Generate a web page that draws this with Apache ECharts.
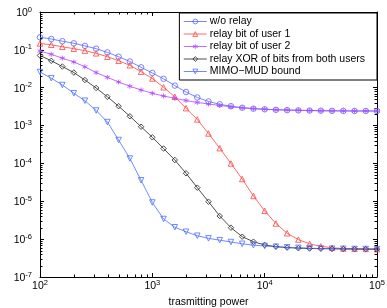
<!DOCTYPE html>
<html>
<head>
<meta charset="utf-8">
<script src="https://cdn.jsdelivr.net/npm/echarts@6/dist/echarts.min.js"></script>
<style>
  html, body { margin: 0; padding: 0; background: #fff; }
  #chart { width: 387px; height: 308px; }
</style>
</head>
<body>
<div id="chart"></div>
<script>
// transmit power samples (10 per decade)
const power = [100, 126, 158, 200, 251, 316, 398, 501, 631, 794,
  1000, 1259, 1585, 1995, 2512, 3162, 3981, 5012, 6310, 7943,
  10000, 12589, 15849, 19953, 25119, 31623, 39811, 50119, 63096, 79433, 100000]

const berNoRelay = [0.2148, 0.1936, 0.1694, 0.1489, 0.1274, 0.1074, 0.0857, 0.0659, 0.0493, 0.0346,
  0.0245, 0.0172, 0.01138, 0.00771, 0.00552, 0.00433, 0.00365, 0.00325, 0.00296, 0.00279,
  0.00269, 0.00261, 0.00256, 0.00252, 0.00249, 0.00247, 0.00245, 0.00244, 0.00243, 0.00243, 0.00243]

const berUser1 = [0.1472, 0.1361, 0.1205, 0.1074, 0.0951, 0.0811, 0.0659, 0.0517, 0.0391, 0.0265,
  0.01753, 0.01026, 0.00575, 0.00288, 0.00145, 6.18e-4, 2.53e-4, 9.96e-5, 3.88e-5, 1.38e-5,
  5.61e-6, 2.59e-6, 1.43e-6, 9.73e-7, 7.53e-7, 6.47e-7, 5.91e-7, 5.66e-7, 5.56e-7, 5.50e-7, 5.43e-7]

const berUser2 = [0.0933, 0.0764, 0.0603, 0.0478, 0.0357, 0.0252, 0.0188, 0.01416, 0.01091, 0.00871,
  0.00713, 0.00604, 0.00526, 0.00459, 0.00407, 0.00372, 0.00339, 0.00313, 0.00295, 0.00281,
  0.00271, 0.00262, 0.00258, 0.00254, 0.0025, 0.00247, 0.00245, 0.00244, 0.00243, 0.00243, 0.00243]

const berXor = [0.0710, 0.0514, 0.0363, 0.0252, 0.0160, 0.00984, 0.00575, 0.00325, 0.00176, 9.33e-4,
  4.90e-4, 2.48e-4, 1.23e-4, 5.49e-5, 2.29e-5, 9.75e-6, 4.09e-6, 2.01e-6, 1.16e-6, 8.57e-7,
  7.01e-7, 6.32e-7, 5.98e-7, 5.77e-7, 5.66e-7, 5.61e-7, 5.55e-7, 5.50e-7, 5.48e-7, 5.45e-7, 5.43e-7]

const berMimo = [0.0260, 0.0178, 0.0118, 0.00713, 0.00454, 0.0025, 0.00124, 4.16e-4, 1.35e-4, 3.59e-5,
  9.29e-6, 3.41e-6, 2.06e-6, 1.57e-6, 1.23e-6, 1.05e-6, 9.40e-7, 8.41e-7, 7.53e-7, 6.92e-7,
  6.59e-7, 6.32e-7, 6.10e-7, 5.92e-7, 5.77e-7, 5.66e-7, 5.61e-7, 5.55e-7, 5.50e-7, 5.47e-7, 5.43e-7]

const seriesNames = ['w/o relay', 'relay bit of user 1', 'relay bit of user 2',
  'relay XOR of bits from both users', 'MIMO\u2212MUD bound']
const seriesColors = ['#5566ff', '#ff4444', '#b448ff', '#222222', '#4d6dff']

// minor tick positions (2..9 of each decade)
const mantissas = [2, 3, 4, 5, 6, 7, 8, 9]
const xDecades = [100, 1000, 10000]
const yDecades = [1e-7, 1e-6, 1e-5, 1e-4, 1e-3, 1e-2, 1e-1]

const xMinor = []
xDecades.forEach(d => mantissas.forEach(m => xMinor.push([m * d, 1e-3])))
const yMinor = []
yDecades.forEach(d => mantissas.forEach(m => yMinor.push([1000, m * d])))

const FONT = 'Liberation Sans, Arial, Helvetica, sans-serif'
const asterisk = 'path://M0,-5L0,5M-4.3,-2.5L4.3,2.5M-4.3,2.5L4.3,-2.5'
const downTriangle = 'path://M-5,-4L5,-4L0,4.5Z'
const CLEAR = 'rgba(255,255,255,0)'

const powLabel = (v) => '{b|10}{s|' + Math.round(Math.log10(v)) + '}'
const powRich = {
  b: { fontSize: 10.5, fontFamily: FONT, color: '#000', lineHeight: 13, verticalAlign: 'bottom' },
  s: { fontSize: 7.5, fontFamily: FONT, color: '#000', lineHeight: 8, verticalAlign: 'top' }
}

const lineSeries = (idx, data, symbol, size) => ({
  name: seriesNames[idx],
  type: 'line',
  data: power.map((p, i) => [p, data[i]]),
  symbol: symbol,
  symbolSize: size || 5.5,
  showSymbol: true,
  lineStyle: { color: seriesColors[idx], width: 0.8 },
  itemStyle: { color: CLEAR, borderColor: seriesColors[idx], borderWidth: 0.8 },
  animation: false
})

const minorTick = (axis) => (params, api) => {
  const cs = params.coordSys
  const len = 2.5
  const st = { stroke: '#000', lineWidth: 1 }
  if (axis === 'x') {
    const x = Math.round(api.coord([api.value(0), 1e-3])[0]) + 0.5
    return { type: 'group', children: [
      { type: 'line', shape: { x1: x, y1: cs.y + cs.height, x2: x, y2: cs.y + cs.height - len }, style: st },
      { type: 'line', shape: { x1: x, y1: cs.y, x2: x, y2: cs.y + len }, style: st }
    ] }
  }
  const y = Math.round(api.coord([1000, api.value(1)])[1]) + 0.5
  return { type: 'group', children: [
    { type: 'line', shape: { x1: cs.x, y1: y, x2: cs.x + len, y2: y }, style: st },
    { type: 'line', shape: { x1: cs.x + cs.width, y1: y, x2: cs.x + cs.width - len, y2: y }, style: st }
  ] }
}

const axisCommon = {
  axisLine: { show: true, lineStyle: { color: '#000', width: 1 } },
  axisTick: { show: true, inside: true, length: 4, lineStyle: { color: '#000' } },
  splitLine: { show: false },
  minorTick: { show: false }
}

const chart = echarts.init(document.getElementById('chart'))

chart.setOption({
  backgroundColor: '#fff',
  animation: false,
  textStyle: { fontFamily: FONT },
  grid: { left: 40, right: 10, top: 12, bottom: 31, containLabel: false, outerBoundsMode: 'none' },
  legend: {
    data: seriesNames.map((n, i) => ({
      name: n,
      itemStyle: { color: CLEAR, borderColor: seriesColors[i], borderWidth: 0.8 },
      lineStyle: { color: seriesColors[i], width: 0.8 }
    })),
    orient: 'vertical',
    right: 10,
    top: 13,
    itemWidth: 23,
    itemHeight: 6,
    itemGap: 1.5,
    padding: [3, 12, 3, 4],
    backgroundColor: '#fff',
    borderColor: '#000',
    borderWidth: 1,
    borderRadius: 0,
    textStyle: { fontSize: 10.5, color: '#000', fontFamily: FONT, padding: [0, 0, 0, -2] }
  },
  xAxis: [
    Object.assign({}, axisCommon, {
      type: 'log', logBase: 10, min: 100, max: 100000, interval: 1,
      position: 'bottom',
      name: 'trasmitting power', nameLocation: 'middle', nameGap: 16,
      nameTextStyle: { fontSize: 10.5, color: '#000', fontFamily: FONT },
      axisLabel: { formatter: powLabel, rich: powRich, margin: 2 }
    }),
    Object.assign({}, axisCommon, {
      type: 'log', logBase: 10, min: 100, max: 100000, interval: 1,
      position: 'top', axisLabel: { show: false }
    })
  ],
  yAxis: [
    Object.assign({}, axisCommon, {
      type: 'log', logBase: 10, min: 1e-7, max: 1, interval: 1,
      position: 'left',
      name: 'BER', nameLocation: 'middle', nameGap: 26, nameRotate: 90,
      nameTextStyle: { fontSize: 10.5, color: '#000', fontFamily: FONT },
      axisLabel: { formatter: powLabel, rich: powRich, margin: 8 }
    }),
    Object.assign({}, axisCommon, {
      type: 'log', logBase: 10, min: 1e-7, max: 1, interval: 1,
      position: 'right', axisLabel: { show: false }
    })
  ],
  series: [
    { type: 'custom', silent: true, renderItem: minorTick('x'), data: xMinor, z: 1 },
    { type: 'custom', silent: true, renderItem: minorTick('y'), data: yMinor, z: 1 },
    lineSeries(0, berNoRelay, 'circle'),
    lineSeries(1, berUser1, 'triangle'),
    lineSeries(2, berUser2, asterisk, 5),
    lineSeries(3, berXor, 'diamond'),
    lineSeries(4, berMimo, downTriangle)
  ]
})

window.addEventListener('resize', () => chart.resize())
</script>
</body>
</html>
